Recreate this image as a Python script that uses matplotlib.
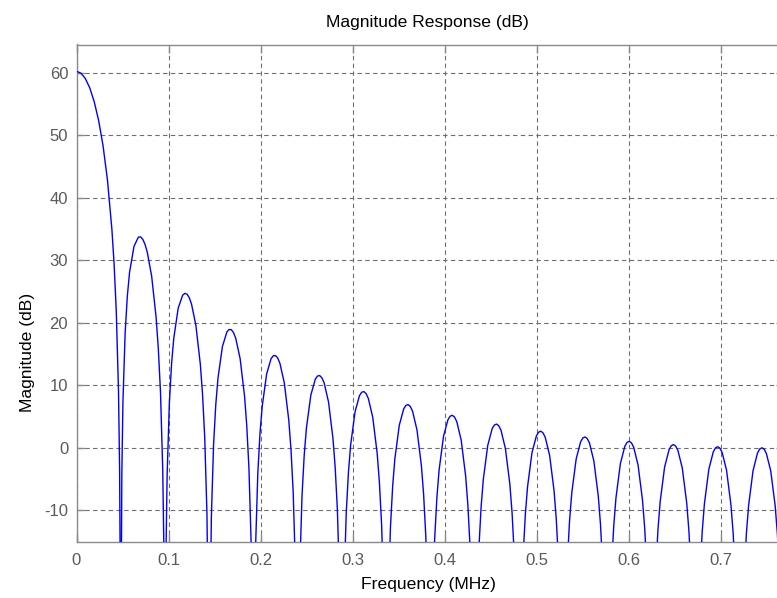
import matplotlib
matplotlib.use('Agg')
import matplotlib.pyplot as plt

plt.rcParams['font.family'] = ['Liberation Sans', 'DejaVu Sans']
plt.rcParams['axes.unicode_minus'] = False

# Magnitude response (frequency in MHz, magnitude in dB)
# nulls go off the bottom of the axes, so they get a value of -40
freq_mhz = [
    0.0, 0.0048, 0.0096, 0.0144, 0.0192, 0.024, 0.0288, 0.0336, 0.0384, 0.0408, 0.0432, 0.0456, 0.0468, 0.04752,
    0.048, 0.0492, 0.0504, 0.0528, 0.0552, 0.0576, 0.0624, 0.0672, 0.0696, 0.072, 0.0744, 0.0768, 0.0816, 0.0864, 0.0888, 0.0912, 0.0936, 0.0948,
    0.096, 0.0972, 0.0984, 0.1008, 0.1032, 0.1056, 0.1104, 0.1152, 0.1176, 0.12, 0.1224, 0.1248, 0.1296, 0.1344, 0.1368, 0.1392, 0.1416,
    0.144, 0.1464, 0.1488, 0.1512, 0.1536, 0.1584, 0.1632, 0.1656, 0.168, 0.1704, 0.1728, 0.1776, 0.1824, 0.1848, 0.1872, 0.1896,
    0.192, 0.1944, 0.1968, 0.1992, 0.2016, 0.2064, 0.2112, 0.2136, 0.216, 0.2184, 0.2208, 0.2256, 0.2304, 0.2328, 0.2352, 0.2376,
    0.24, 0.2424, 0.2448, 0.2472, 0.2496, 0.2544, 0.2592, 0.2616, 0.264, 0.2664, 0.2688, 0.2736, 0.2784, 0.2808, 0.2832, 0.2856,
    0.288, 0.2904, 0.2928, 0.2952, 0.2976, 0.3024, 0.3072, 0.3096, 0.312, 0.3144, 0.3168, 0.3216, 0.3264, 0.3288, 0.3312, 0.3336,
    0.336, 0.3384, 0.3408, 0.3432, 0.3456, 0.3504, 0.3552, 0.3576, 0.36, 0.3624, 0.3648, 0.3696, 0.3744, 0.3768, 0.3792, 0.3816,
    0.384, 0.3864, 0.3888, 0.3912, 0.3936, 0.3984, 0.4032, 0.4056, 0.408, 0.4104, 0.4128, 0.4176, 0.4224, 0.4248, 0.4272, 0.4296,
    0.432, 0.4344, 0.4368, 0.4392, 0.4416, 0.4464, 0.4512, 0.4536, 0.456, 0.4584, 0.4608, 0.4656, 0.4704, 0.4728, 0.4752, 0.4776,
    0.48, 0.4824, 0.4848, 0.4872, 0.4896, 0.4944, 0.4992, 0.5016, 0.504, 0.5064, 0.5088, 0.5136, 0.5184, 0.5208, 0.5232, 0.5256,
    0.528, 0.5304, 0.5328, 0.5352, 0.5376, 0.5424, 0.5472, 0.5496, 0.552, 0.5544, 0.5568, 0.5616, 0.5664, 0.5688, 0.5712, 0.5736,
    0.576, 0.5784, 0.5808, 0.5832, 0.5856, 0.5904, 0.5952, 0.5976, 0.600, 0.6024, 0.6048, 0.6096, 0.6144, 0.6168, 0.6192, 0.6216,
    0.624, 0.6264, 0.6288, 0.6312, 0.6336, 0.6384, 0.6432, 0.6456, 0.648, 0.6504, 0.6528, 0.6576, 0.6624, 0.6648, 0.6672, 0.6696,
    0.672, 0.6744, 0.6768, 0.6792, 0.6816, 0.6864, 0.6912, 0.6936, 0.696, 0.6984, 0.7008, 0.7056, 0.7104, 0.7128, 0.7152, 0.7176,
    0.72, 0.7224, 0.7248, 0.7272, 0.7296, 0.7344, 0.7392, 0.7416, 0.744, 0.7464, 0.7488, 0.7536, 0.7584, 0.7608, 0.7632, 0.7656, 0.768,
]
mag_db = [
    60.21, 59.92, 59.05, 57.56, 55.37, 52.37, 48.33, 42.85, 34.98, 29.45, 21.77, 9.01, -3.43, -19.59,
    -40, -4.26, 7.33, 18.38, 24.31, 28.07, 32.22, 33.71, 33.73, 33.34, 32.54, 31.32, 27.43, 20.89, 15.94, 8.82, -3.44, -15.62,
    -40, -16.03, -4.25, 7.17, 13.45, 17.55, 22.34, 24.41, 24.71, 24.58, 24.02, 23.03, 19.58, 13.41, 8.62, 1.65, -10.46,
    -40, -11.02, 0.54, 6.95, 11.18, 16.21, 18.52, 18.93, 18.90, 18.45, 17.56, 14.29, 8.30, 3.59, -3.30, -15.34,
    -40, -15.74, -4.11, 2.37, 6.66, 11.82, 14.26, 14.73, 14.76, 14.37, 13.53, 10.37, 4.48, -0.17, -7.02, -19.01,
    -40, -19.33, -7.65, -1.13, 3.21, 8.46, 10.98, 11.49, 11.56, 11.20, 10.41, 7.32, 1.50, -3.12, -9.93, -21.89,
    -40, -22.15, -10.44, -3.89, 0.48, 5.79, 8.36, 8.90, 9.00, 8.67, 7.90, 4.87, -0.90, -5.50, -12.28, -24.22,
    -40, -24.42, -12.70, -6.12, -1.73, 3.63, 6.24, 6.80, 6.92, 6.61, 5.86, 2.87, -2.86, -7.44, -14.21, -26.12,
    -40, -26.29, -14.55, -7.95, -3.54, 1.85, 4.50, 5.07, 5.21, 4.92, 4.19, 1.23, -4.47, -9.04, -15.79, -27.69,
    -40, -27.83, -16.07, -9.45, -5.03, 0.39, 3.07, 3.66, 3.81, 3.53, 2.82, -0.12, -5.79, -10.34, -17.07, -28.96,
    -40, -29.0, -17.30, -10.68, -6.24, -0.80, 1.90, 2.51, 2.67, 2.40, 1.70, -1.21, -6.86, -11.40, -18.13, -30.0,
    -40, -30.1, -18.31, -11.68, -7.23, -1.77, 0.96, 1.58, 1.75, 1.50, 0.80, -2.09, -7.71, -12.24, -18.95, -30.8,
    -40, -30.9, -19.09, -12.44, -7.99, -2.50, 0.24, 0.87, 1.05, 0.80, 0.12, -2.75, -8.36, -12.88, -19.59, -31.4,
    -40, -31.5, -19.69, -13.03, -8.57, -3.06, -0.30, 0.34, 0.53, 0.29, -0.38, -3.23, -8.82, -13.33, -20.03, -31.9,
    -40, -31.9, -20.09, -13.43, -8.95, -3.43, -0.65, -0.01, 0.19, -0.04, -0.71, -3.54, -9.11, -13.61, -20.30, -32.1,
    -40, -32.2, -20.34, -13.66, -9.18, -3.64, -0.84, -0.19, 0.02, -0.20, -0.86, -3.67, -9.23, -13.72, -20.40, -32.23, -40,
]

x_ticks = [0, 0.1, 0.2, 0.3, 0.4, 0.5, 0.6, 0.7]
x_tick_labels = ['0', '0.1', '0.2', '0.3', '0.4', '0.5', '0.6', '0.7']
y_ticks = [-10, 0, 10, 20, 30, 40, 50, 60]

W, H = 777, 598
fig = plt.figure(figsize=(W / 100, H / 100), dpi=100)
fig.patch.set_facecolor('white')

# axes box in pixels: left 76.5, right ~784 (runs off the picture), top 44.5, bottom 541.7
ax = fig.add_axes([76.5 / W, (H - 541.7) / H, (784 - 76.5) / W, (541.7 - 44.5) / H])
ax.plot(freq_mhz, mag_db, color=(0, 0, 1), linewidth=1.0, zorder=3)

ax.set_xlim(0, 0.768)
ax.set_ylim(-15, 64.5)
ax.set_xticks(x_ticks)
ax.set_xticklabels(x_tick_labels)
ax.set_yticks(y_ticks)

ax.grid(True, color='#6e6e6e', linestyle=(0, (4, 3)), linewidth=0.8)
for s in ax.spines.values():
    s.set_color('#8a8a8a')
    s.set_linewidth(1.0)
ax.tick_params(direction='in', length=5.5, width=1.0, color='#8a8a8a',
               labelcolor='#5a5a5a', labelsize=12, top=True, right=True)
ax.tick_params(axis='y', pad=6)
ax.tick_params(axis='x', pad=8)

fig.text(427 / W, 1 - 27 / H, 'Magnitude Response (dB)', ha='center', va='baseline', fontsize=12.6)
fig.text(428.5 / W, 1 - 589 / H, 'Frequency (MHz)', ha='center', va='baseline', fontsize=12.6)
fig.text(27.3 / W, 1 - 293 / H, 'Magnitude (dB)', ha='right', va='center', rotation=90,
         rotation_mode='anchor', fontsize=12.6)

fig.savefig('out.png', dpi=100)
